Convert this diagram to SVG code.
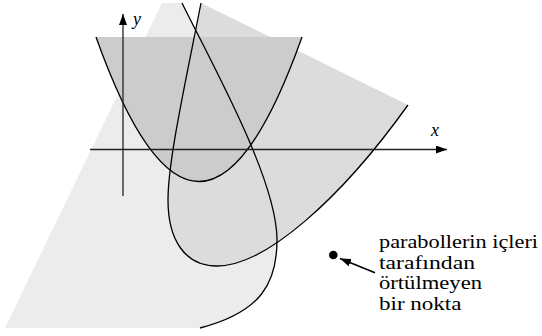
<svg xmlns="http://www.w3.org/2000/svg" width="542" height="336" viewBox="0 0 542 336">
  <defs>
    <marker id="ah" markerUnits="userSpaceOnUse" markerWidth="12" markerHeight="9" refX="11" refY="4" orient="auto" viewBox="0 0 12 9">
      <path d="M0,0 L11,4 L0,8 Z" fill="#000"/>
    </marker>
    <style>
      .curve { fill: none; stroke: #000; stroke-width: 1.3; }
      .axis { fill: none; stroke: #222; stroke-width: 1.3; marker-end: url(#ah); }
      .lbl { font-family: "Liberation Serif", "Times New Roman", serif; font-size: 18px; fill: #000; }
      .ax { font-family: "Liberation Serif", "Times New Roman", serif; font-style: italic; font-size: 18px; fill: #000; }
    </style>
  </defs>
  <rect width="542" height="336" fill="#fff"/>

  <g id="regions">
    <path id="regionC" d="M162,3 L182,3 C214,68 277,180 277,240 C277,282 262,312 200,328 L5,328 Z" fill="#ececec"/>
    <path id="regionB" d="M201,3 C186,80 168,160 168,200 C168,240 185,266 217,266 C265,266 340,200 408,105 Z" fill="#dcdcdc"/>
    <path id="regionA" d="M96,37 Q199,326 302,37 Z" fill="#cccccc"/>
  </g>

  <g id="curves">
    <path id="parabolaC" class="curve" d="M182,3 C214,68 277,180 277,240 C277,282 262,312 200,328"/>
    <path id="parabolaB" class="curve" d="M201,3 C186,80 168,160 168,200 C168,240 185,266 217,266 C265,266 340,200 408,105"/>
    <path id="parabolaA" class="curve" d="M96,37 Q199,326 302,37"/>
  </g>

  <g id="axes">
    <line id="xaxis" class="axis" x1="90" y1="149.5" x2="447" y2="149.5"/>
    <line id="yaxis" class="axis" x1="123" y1="196" x2="123" y2="14"/>
    <text class="ax" x="133" y="25">y</text>
    <text class="ax" x="431" y="136">x</text>
  </g>

  <g id="point">
    <circle cx="333.3" cy="255" r="4.3" fill="#000"/>
  </g>

  <g id="label">
    <text class="lbl" x="379" y="248" textLength="159" lengthAdjust="spacingAndGlyphs">parabollerin içleri</text>
    <text class="lbl" x="379" y="268.5" textLength="96" lengthAdjust="spacingAndGlyphs">tarafından</text>
    <text class="lbl" x="379" y="289" textLength="103" lengthAdjust="spacingAndGlyphs">örtülmeyen</text>
    <text class="lbl" x="379" y="309.5" textLength="82.5" lengthAdjust="spacingAndGlyphs">bir nokta</text>
  </g>

  <g id="connectors">
    <line x1="375" y1="272.7" x2="340" y2="258.5" stroke="#000" stroke-width="1.5" marker-end="url(#ah)"/>
  </g>
</svg>
